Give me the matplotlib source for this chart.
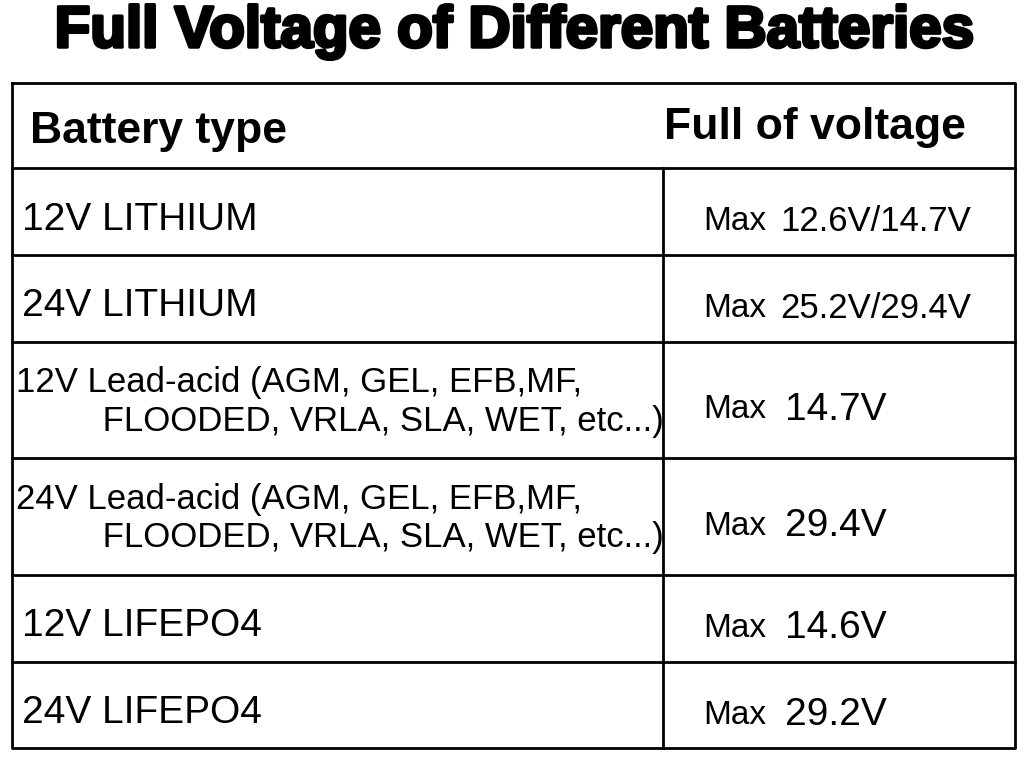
import matplotlib
matplotlib.use("Agg")
import matplotlib.pyplot as plt
import matplotlib.patheffects as pe

title = "Full Voltage of Different Batteries"
headers = ["Battery type", "Full of voltage"]
types = ["12V LITHIUM", "24V LITHIUM",
         "12V Lead-acid (AGM, GEL, EFB,MF,\n         FLOODED, VRLA, SLA, WET, etc...)",
         "24V Lead-acid (AGM, GEL, EFB,MF,\n         FLOODED, VRLA, SLA, WET, etc...)",
         "12V LIFEPO4", "24V LIFEPO4"]
voltages = ["12.6V/14.7V", "25.2V/29.4V", "14.7V", "29.4V", "14.6V", "29.2V"]
row_edges = [168, 255, 342, 458, 575, 662, 748]

fig = plt.figure(figsize=(10.24, 7.62), dpi=100)
ax = fig.add_axes([0, 0, 1, 1])
ax.set_xlim(0, 1024); ax.set_ylim(762, 0); ax.axis("off")
fam = ["Liberation Sans", "DejaVu Sans"]

ax.text(515, 32, title, ha="center", va="center", fontsize=42, fontweight="heavy",
        family=fam, color="black",
        path_effects=[pe.withStroke(linewidth=2.5, foreground="black")])
L, R, T, B, M = 12, 1015, 83, 748, 663
lw = 2
ax.plot([L, R, R, L, L], [T, T, B, B, T], color="black", lw=lw)
for y in row_edges[:-1]:
    ax.plot([L, R], [y, y], color="black", lw=lw)
ax.plot([M, M], [row_edges[0], B], color="black", lw=lw)

ax.text(30, 131, headers[0], ha="left", va="center", fontsize=32, fontweight="bold", family=fam)
ax.text(815, 127, headers[1], ha="center", va="center", fontsize=32, fontweight="bold", family=fam)

for i, (t, v) in enumerate(zip(types, voltages)):
    yc = (row_edges[i] + row_edges[i + 1]) / 2
    multi = "\n" in t
    ax.text(22 if not multi else 16, yc + (8 if not multi else 2), t, ha="left", va="center",
            fontsize=28 if not multi else 25, family=fam, linespacing=1.2)
    ax.text(703, yc + 10, "Max", ha="left", va="center", fontsize=24, family=fam)
    ax.text(780 if "/" in v else 785, yc + 10, v, ha="left", va="center",
            fontsize=25 if "/" in v else 28, family=fam)

fig.savefig("out.png", dpi=100)
